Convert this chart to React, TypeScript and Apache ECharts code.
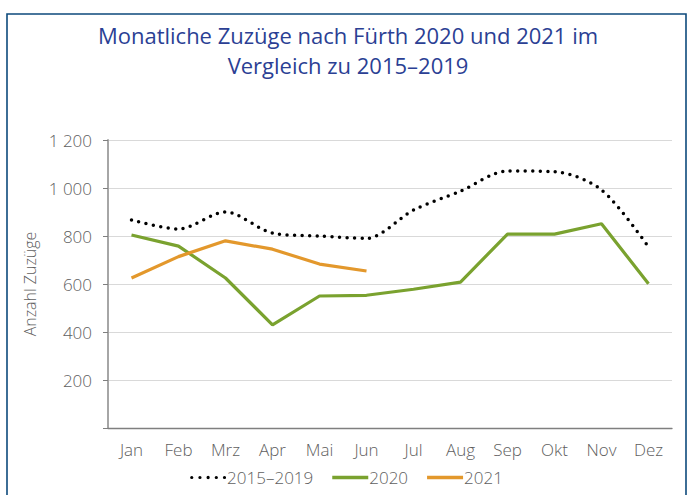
import React, { useEffect, useRef } from "react";
import * as echarts from "echarts";

const months = ["Jan", "Feb", "Mrz", "Apr", "Mai", "Jun", "Jul", "Aug", "Sep", "Okt", "Nov", "Dez"];
const avg2015_2019 = [867, 829, 900, 812, 800, 790, 908, 987, 1071, 1068, 992, 754];
const values2020 = [804, 758, 625, 430, 550, 553, 578, 608, 808, 808, 851, 601];
const values2021 = [625, 714, 780, 745, 683, 654];
const yTicks = [0, 200, 400, 600, 800, 1000, 1200];
const titleLines = ["Monatliche Zuzüge nach Fürth 2020 und 2021 im", "Vergleich zu 2015–2019"];

const FONT = "'Open Sans', 'Noto Sans', sans-serif";
const GRAY = "#606060";

// five round dots for the legend icon of the dotted series
const dotIcon = (() => {
  const r = 1.75;
  let d = "path://";
  for (let i = 0; i < 5; i++) {
    const cx = r + i * 8.75;
    d += `M${cx - r},${r} a${r},${r} 0 1,0 ${2 * r},0 a${r},${r} 0 1,0 ${-2 * r},0 Z `;
  }
  return d.trim();
})();

export default function App() {
  const ref = useRef<HTMLDivElement>(null);
  useEffect(() => {
    if (!ref.current) return;
    const chart = echarts.init(ref.current, undefined, { renderer: "svg" });
    const titleStyle = {
      fontFamily: FONT,
      fontSize: 22,
      fontWeight: "normal",
      color: "#2b3f94",
      lineHeight: 22,
    };
    chart.setOption({
      animation: false,
      backgroundColor: "#ffffff",
      textStyle: { fontFamily: FONT },
      graphic: [
        {
          type: "rect",
          shape: { x: 7, y: 14, width: 679, height: 495 },
          style: { fill: "none", stroke: "#0d4a7c", lineWidth: 1.6 },
          silent: true,
        },
      ],
      title: [
        { text: titleLines[0], left: 348, textAlign: "center", top: 24, padding: 0, textStyle: titleStyle },
        { text: titleLines[1], left: 348, textAlign: "center", top: 54, padding: 0, textStyle: titleStyle },
      ],
      legend: {
        bottom: 4,
        left: "center",
        itemWidth: 36,
        itemHeight: 3.5,
        itemGap: 19,
        textStyle: { fontFamily: FONT, fontSize: 17, fontWeight: 300, color: GRAY, padding: [0, 0, 0, -4] },
        data: [
          { name: "2015–2019", icon: dotIcon, itemStyle: { color: "#000000" } },
          { name: "2020", icon: "rect", itemStyle: { color: "#7aa22f" } },
          { name: "2021", icon: "rect", itemStyle: { color: "#e3982c" } },
        ],
      },
      grid: { left: 108, right: 21, top: 140, bottom: 67, containLabel: false },
      xAxis: {
        type: "category",
        data: months,
        boundaryGap: true,
        axisLine: { lineStyle: { color: "#7f7f7f", width: 1.3 } },
        axisTick: { alignWithLabel: true, length: 5, lineStyle: { color: "#7f7f7f" } },
        axisLabel: { fontFamily: FONT, fontSize: 17, fontWeight: 300, color: GRAY, margin: 13 },
      },
      yAxis: {
        type: "value",
        min: yTicks[0],
        max: yTicks[yTicks.length - 1],
        interval: 200,
        name: "Anzahl Zuzüge",
        nameLocation: "middle",
        nameGap: 57,
        nameTextStyle: { fontFamily: FONT, fontSize: 16, fontWeight: 300, color: GRAY },
        axisLine: { show: true, lineStyle: { color: "#a6a6a6", width: 2 } },
        axisTick: { show: true, length: 5, lineStyle: { color: "#7f7f7f" } },
        axisLabel: {
          fontFamily: FONT,
          fontSize: 17,
          fontWeight: 300,
          color: GRAY,
          margin: 16,
          formatter: (v: number) => (v === 0 ? "" : v >= 1000 ? `${Math.floor(v / 1000)} ${String(v % 1000).padStart(3, "0")}` : String(v)),
        },
        splitLine: { lineStyle: { color: "#d9d9d9", width: 1 } },
      },
      series: [
        {
          name: "2015–2019",
          type: "line",
          data: avg2015_2019,
          smooth: 0.3,
          symbol: "none",
          lineStyle: { color: "#000000", width: 3.5, type: [0, 7.5], cap: "round" },
          itemStyle: { color: "#000000" },
        },
        {
          name: "2020",
          type: "line",
          data: values2020,
          symbol: "none",
          lineStyle: { color: "#7aa22f", width: 3.2 },
          itemStyle: { color: "#7aa22f" },
        },
        {
          name: "2021",
          type: "line",
          data: values2021,
          symbol: "none",
          lineStyle: { color: "#e3982c", width: 3.2 },
          itemStyle: { color: "#e3982c" },
        },
      ],
    });
    return () => chart.dispose();
  }, []);
  return (
    <div
      ref={ref}
      style={{ position: "fixed", left: 0, top: 0, width: 693, height: 495 }}
    />
  );
}
